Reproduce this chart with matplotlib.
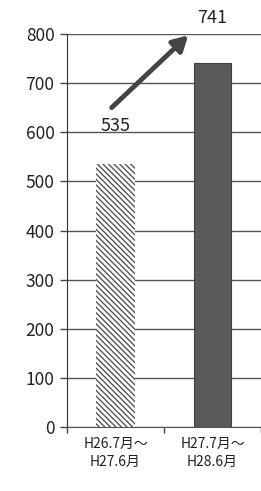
import matplotlib
matplotlib.use("Agg")
import matplotlib.pyplot as plt

plt.rcParams['font.family'] = ['Noto Sans CJK JP', 'DejaVu Sans']
plt.rcParams['hatch.linewidth'] = 1.0

categories = ["H26.7月～\nH27.6月", "H27.7月～\nH28.6月"]
values = [535, 741]
yticks = [0, 100, 200, 300, 400, 500, 600, 700, 800]

fig = plt.figure(figsize=(2.61, 4.91), dpi=100)
ax = fig.add_axes([0.257, 0.130, 0.743, 0.801])

x = list(range(len(categories)))
b1 = ax.bar(x[0], values[0], width=0.41, facecolor='white', edgecolor='#555555',
            linewidth=0, hatch='\\' * 6, zorder=2)
b2 = ax.bar(x[1], values[1], width=0.39, color='#5a5a5a', edgecolor='#404040',
            linewidth=0.8, zorder=2)

ax.set_xlim(-0.5, 1.5)
ax.set_ylim(0, 800)
ax.set_yticks(yticks)
ax.set_yticklabels([str(t) for t in yticks], fontsize=12.5, color='#222222')
ax.set_xticks(x)
ax.set_xticklabels(categories, fontsize=10, color='#222222', linespacing=1.4)
ax.set_xticks([-0.5, 0.5, 1.5], minor=True)
ax.tick_params(axis='x', which='major', length=0, pad=7)
ax.tick_params(axis='x', which='minor', length=4, width=1, color='#444444')
ax.tick_params(axis='y', length=5, width=1, color='#444444', pad=4)

ax.grid(axis='y', color='#555555', linewidth=1.0, zorder=1)
for s in ['top', 'right']:
    ax.spines[s].set_visible(False)
ax.spines['left'].set_color('#333333')
ax.spines['bottom'].set_color('#555555')

ax.text(x[0], 612, str(values[0]), ha='center', va='center', fontsize=13,
        color='#222222', clip_on=False, zorder=3)
ax.text(x[1], 832, str(values[1]), ha='center', va='center', fontsize=13,
        color='#222222', clip_on=False, zorder=3)
ax.annotate('', xy=(0.75, 797), xytext=(-0.04, 650),
            arrowprops=dict(arrowstyle='-|>,head_length=0.9,head_width=0.5',
                            lw=3.5, color='#444444', shrinkA=0, shrinkB=0),
            annotation_clip=False, zorder=4)

fig.savefig('out.png', dpi=100)
